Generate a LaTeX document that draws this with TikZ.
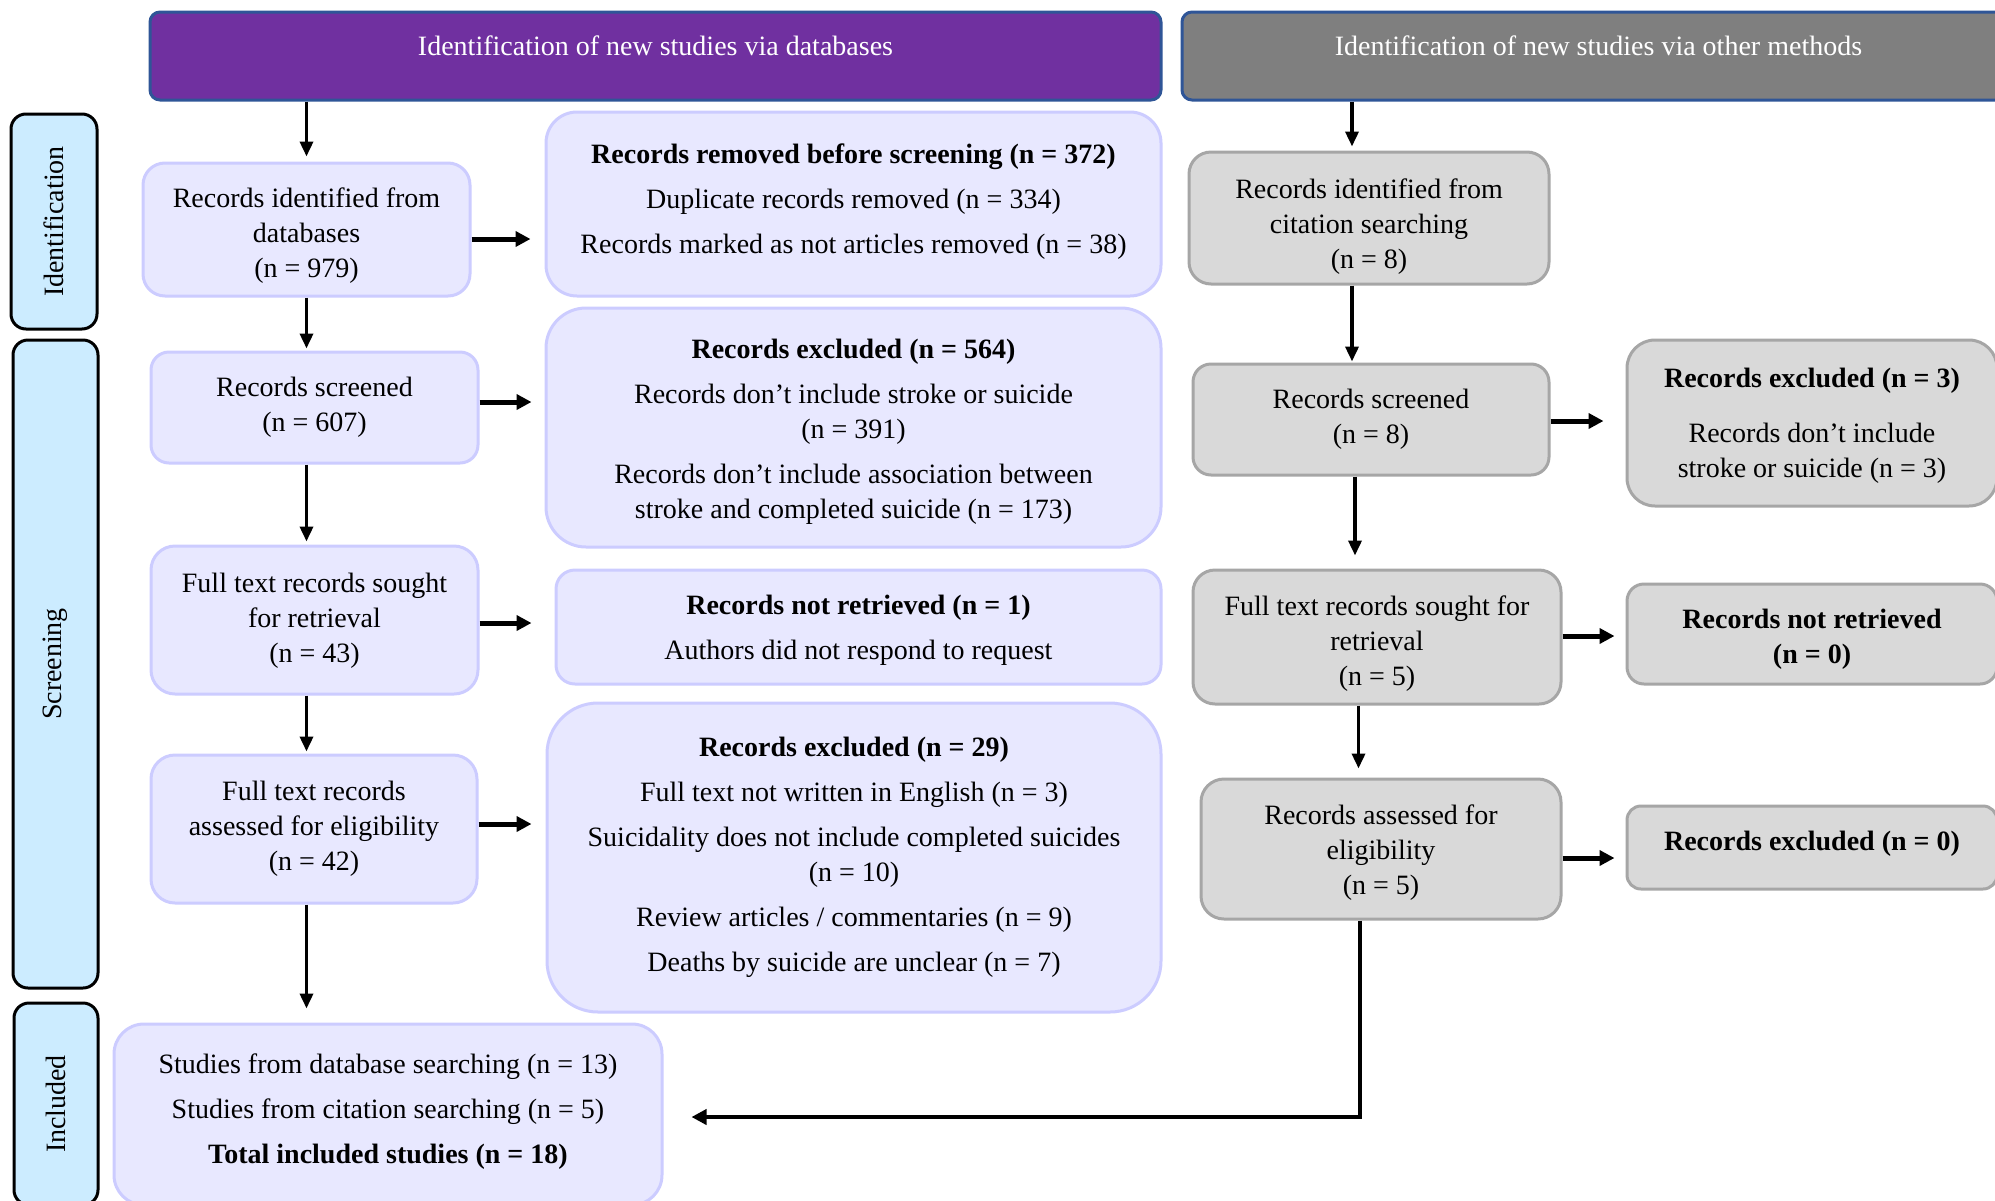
\documentclass[tikz,border=0pt]{standalone}
\usepackage{fontspec}
\setmainfont{Liberation Serif}
\usetikzlibrary{arrows.meta,calc}
\definecolor{boxblue}{HTML}{E8E8FF}
\definecolor{boxblueline}{HTML}{CCCCFF}
\definecolor{boxgrey}{HTML}{D9D9D9}
\definecolor{boxgreyline}{HTML}{A6A6A6}
\definecolor{sideblue}{HTML}{CCECFF}
\definecolor{hdrpurple}{HTML}{7030A0}
\definecolor{hdrgrey}{HTML}{7F7F7F}
\definecolor{hdrline}{HTML}{2F5597}
\begin{document}
\begin{tikzpicture}[x=1pt,y=-1pt,
 base/.style={font=\fontsize{28}{35}\selectfont, align=center, inner sep=0pt, line width=3pt},
 bluebox/.style={base, draw=boxblueline, fill=boxblue},
 greybox/.style={base, draw=boxgreyline, fill=boxgrey},
 sidebox/.style={base, draw=black, fill=sideblue, rotate=90, rounded corners=15pt},
 hdrbox/.style={base, draw=hdrline, text=white, rounded corners=10pt},
 varrow/.style={line width=3.5pt, -{Triangle[length=15pt,width=13pt]}},
 harrow/.style={line width=5pt, -{Triangle[length=15pt,width=15pt]}},
 sz/.style 2 args={minimum width=#1pt, minimum height=#2pt},
 txt/.style={base, draw=none, fill=none},
]
\useasboundingbox (0,0) rectangle (1995,1200);
\fill[white] (0,0) rectangle (1995,1200);
\clip (0,0) rectangle (1995,1200);

% headers
\node[hdrbox, fill=hdrpurple, sz={1011}{88}] (hdrA) at (655.5,56) {\raisebox{20pt}{Identification of new studies via databases}};
\node[hdrbox, fill=hdrgrey, sz={833}{88}] (hdrB) at (1598.5,56) {\raisebox{20pt}{Identification of new studies via other methods}};

% side labels
\node[sidebox, sz={215}{86}] (sId) at (54,221.5) {Identification};
\node[sidebox, sz={648}{85}] (sScr) at (55.5,664) {Screening};
\node[sidebox, sz={202}{84}] (sInc) at (56,1104) {Included};

% left column
\node[bluebox, sz={327}{133}, rounded corners=22pt,
  label={[txt, yshift=-6pt]center:{Records identified from\\databases\\(n = 979)}}] (b1) at (306.5,229.5) {};
\node[bluebox, sz={327}{111}, rounded corners=18pt] (b2) at (314.5,407.5) {Records screened\\(n = 607)};
\node[bluebox, sz={327}{148}, rounded corners=24pt,
  label={[txt, yshift=-1pt]center:{Full text records sought\\for retrieval\\(n = 43)}}] (b3) at (314.5,620) {};
\node[bluebox, sz={326}{148}, rounded corners=24pt] (b4) at (314,829) {Full text records\\assessed for eligibility\\(n = 42)};
\node[bluebox, sz={548}{181}, rounded corners=30pt,
  label={[txt, yshift=2.5pt]center:{Studies from database searching (n = 13)\\[10pt]Studies from citation searching (n = 5)\\[10pt]\textbf{Total included studies (n = 18)}}}] (inc) at (388,1114.5) {};

% middle column
\node[bluebox, sz={615}{184}, rounded corners=31pt,
  label={[txt, yshift=2pt]center:{\textbf{Records removed before screening (n = 372)}\\[10pt]Duplicate records removed (n = 334)\\[10pt]Records marked as not articles removed (n = 38)}}] (A) at (853.5,204) {};
\node[bluebox, sz={615}{239}, rounded corners=40pt,
  label={[txt, yshift=-4.5pt]center:{\textbf{Records excluded (n = 564)}\\[10pt]Records don’t include stroke or suicide\\(n = 391)\\[10pt]Records don’t include association between\\stroke and completed suicide (n = 173)}}] (B) at (853.5,427.5) {};
\node[bluebox, sz={605}{114}, rounded corners=19pt,
  label={[txt, yshift=-3pt]center:{\textbf{Records not retrieved (n = 1)}\\[10pt]Authors did not respond to request}}] (C) at (858.5,627) {};
\node[bluebox, sz={614}{309}, rounded corners=51pt] (D) at (854,857.5) {\textbf{Records excluded (n = 29)}\\[10pt]Full text not written in English (n = 3)\\[10pt]Suicidality does not include completed suicides\\(n = 10)\\[10pt]Review articles / commentaries (n = 9)\\[10pt]Deaths by suicide are unclear (n = 7)};

% right side
\node[greybox, sz={360}{132}, rounded corners=22pt,
  label={[txt, yshift=-9pt]center:{Records identified from\\citation searching\\(n = 8)}}] (E) at (1369,218) {};
\node[greybox, sz={356}{111}, rounded corners=18pt] (F) at (1371,419.5) {Records screened\\(n = 8)};
\node[greybox, sz={370}{166}, rounded corners=28pt,
  label={[txt, yshift=-3pt]center:{\textbf{Records excluded (n = 3)}\\[20pt]Records don’t include\\stroke or suicide (n = 3)}}] (G) at (1812,423) {};
\node[greybox, sz={368}{134}, rounded corners=22pt,
  label={[txt, yshift=-7pt]center:{Full text records sought for\\retrieval\\(n = 5)}}] (H) at (1377,637) {};
\node[greybox, sz={370}{100}, rounded corners=17pt,
  label={[txt, yshift=-5pt]center:{\textbf{Records not retrieved}\\\textbf{(n = 0)}}}] (I) at (1812,634) {};
\node[greybox, sz={360}{140}, rounded corners=23pt,
  label={[txt, yshift=-4pt]center:{Records assessed for\\eligibility\\(n = 5)}}] (J) at (1381,849) {};
\node[greybox, sz={370}{83}, rounded corners=14pt] (K) at (1812,847.5) {\raisebox{13pt}{\textbf{Records excluded (n = 0)}}};

% arrows left
\draw[varrow] (hdrA.south -| b1.north) -- ($(b1.north)+(0,-5)$);
\draw[varrow] (b1.south) -- ($(b1.south |- b2.north)+(0,-2)$);
\draw[varrow] (b2.south -| b1.south) -- ($(b3.north -| b1.south)+(0,-3)$);
\draw[varrow] (b3.south -| b1.south) -- ($(b4.north -| b1.south)+(0,-2)$);
\draw[varrow] (b4.south -| b1.south) -- ($(inc.north -| b1.south)+(0,-14)$);

\draw[harrow] ($(b1.east)+(0,9.5)$) -- ($(A.west |- b1.east)+(-14,9.5)$);
\draw[harrow] ($(b2.east)+(0,-5.5)$) -- ($(B.west |- b2.east)+(-13,-5.5)$);
\draw[harrow] ($(b3.east)+(0,3)$) -- ($(C.west |- b3.east)+(-23,3)$);
\draw[harrow] ($(b4.east)+(0,-5)$) -- ($(D.west |- b4.east)+(-14,-5)$);

% arrows right
\draw[varrow] ($(hdrB.south -| E.north)+(-17,0)$) -- ($(E.north)+(-17,-4)$);
\draw[varrow] ($(E.south)+(-17,0)$) -- ($(F.north -| E.south)+(-17,-1)$);
\draw[varrow] ($(F.south)+(-16,0)$) -- ($(H.north -| F.south)+(-16,-13)$);
\draw[varrow] ($(H.south)+(-18.5,0)$) -- ($(J.north -| H.south)+(-18.5,-9)$);

\draw[harrow] ($(F.east)+(0,1.5)$) -- ($(G.west |- F.east)+(-22,1.5)$);
\draw[harrow] ($(H.east)+(0,-1)$) -- ($(I.west |- H.east)+(-11,-1)$);
\draw[harrow] ($(J.east)+(0,9)$) -- ($(K.west |- J.east)+(-11,9)$);

\draw[line width=4pt, -{Triangle[length=15pt,width=15pt]}] ($(J.south)+(-21,0)$) |- ($(inc.east)+(28,2.5)$);
\end{tikzpicture}
\end{document}
